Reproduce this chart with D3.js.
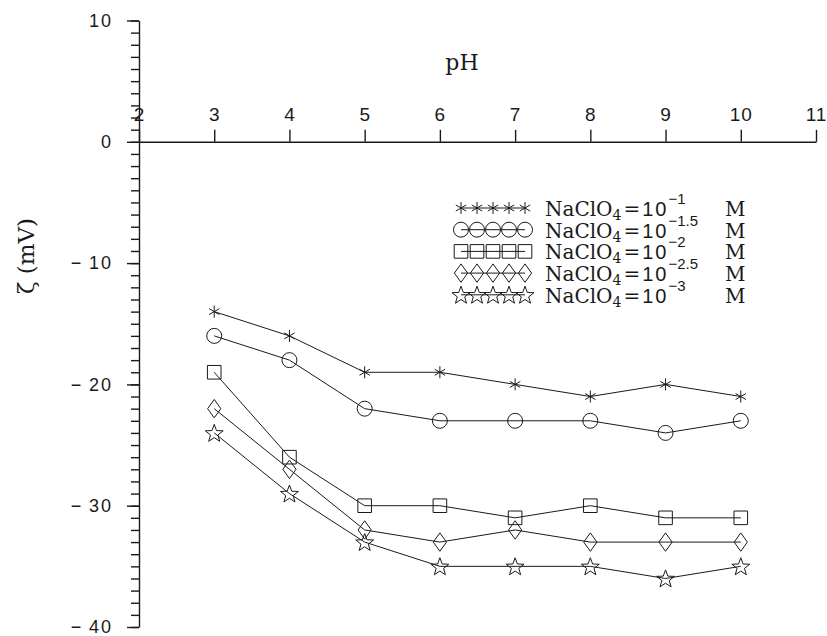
<!DOCTYPE html>
<html><head><meta charset="utf-8">
<script src="https://cdn.jsdelivr.net/npm/d3@7"></script>
<style>
body{margin:0;background:#fff;}
svg{display:block;}
</style></head><body>
<svg id="chart" width="827" height="636"></svg>
<script>
// Zeta potential vs pH for five NaClO4 concentrations
const pH = [3, 4, 5, 6, 7, 8, 9, 10];
const zetaE1  = [-14, -16, -19, -19, -20, -21, -20, -21];
const zetaE15 = [-16, -18, -22, -23, -23, -23, -24, -23];
const zetaE2  = [-19, -26, -30, -30, -31, -30, -31, -31];
const zetaE25 = [-22, -27, -32, -33, -32, -33, -33, -33];
const zetaE3  = [-24, -29, -33, -35, -35, -35, -36, -35];
const exponents = ["−1", "−1.5", "−2", "−2.5", "−3"];
const markers = ["asterisk", "circle", "square", "diamond", "star"];
const xTicks = [2, 3, 4, 5, 6, 7, 8, 9, 10, 11];
const yMajor = [-40, -30, -20, -10, 0, 10];

const series = [zetaE1, zetaE15, zetaE2, zetaE25, zetaE3].map((vals, i) => ({
  values: vals.map((v, j) => ({ x: pH[j], y: v })),
  marker: markers[i],
  exp: exponents[i]
}));

const ink = "#1a1a1a";
const sansFont = "'Liberation Sans', Arial, sans-serif";
const serifFont = "'DejaVu Serif', 'Liberation Serif', serif";

const svg = d3.select("#chart");
const x = d3.scaleLinear().domain([2, 11]).range([139, 816]);
const y = d3.scaleLinear().domain([-40, 10]).range([627, 20.5]);

function markerPath(type) {
  const p = d3.path();
  if (type === "asterisk") {
    const a = 6, c = a * Math.cos(Math.PI / 6), s = a * Math.sin(Math.PI / 6);
    p.moveTo(0, -a); p.lineTo(0, a);
    p.moveTo(-c, -s); p.lineTo(c, s);
    p.moveTo(-c, s); p.lineTo(c, -s);
  } else if (type === "circle") {
    p.moveTo(7.5, 0); p.arc(0, 0, 7.5, 0, 2 * Math.PI);
  } else if (type === "square") {
    p.rect(-6.8, -6.8, 13.6, 13.6);
  } else if (type === "diamond") {
    p.moveTo(0, -9.2); p.lineTo(6.6, 0); p.lineTo(0, 9.2); p.lineTo(-6.6, 0); p.closePath();
  } else if (type === "star") {
    const R = 9.4, r = 3.9;
    for (let k = 0; k < 10; k++) {
      const rad = k % 2 === 0 ? R : r;
      const ang = -Math.PI / 2 + k * Math.PI / 5;
      const px = rad * Math.cos(ang), py = rad * Math.sin(ang) + 0.8;
      k === 0 ? p.moveTo(px, py) : p.lineTo(px, py);
    }
    p.closePath();
  }
  return p.toString();
}

// Y axis: minor ticks every unit, labelled major ticks every 10
const yMinorAxis = d3.axisLeft(y).tickValues(d3.range(-40, 11)).tickSize(8).tickFormat("");
const yMajorAxis = d3.axisLeft(y).tickValues(yMajor).tickSize(12).tickPadding(14)
  .tickFormat(d => d < 0 ? "−\u2009" + Math.abs(d) : String(d));

const gyMinor = svg.append("g").attr("transform", `translate(${x(2)},0)`).call(yMinorAxis);
gyMinor.select(".domain").remove();
const gyMajor = svg.append("g").attr("transform", `translate(${x(2)},0)`).call(yMajorAxis.tickSizeOuter(0));

// X axis along zeta = 0, ticks pointing up
const xAxis = d3.axisTop(x).tickValues(xTicks).tickSize(12).tickSizeOuter(0).tickPadding(9);
const gx = svg.append("g").attr("transform", `translate(0,${y(0)})`).call(xAxis);

[gyMinor, gyMajor, gx].forEach(g => {
  g.selectAll("line").attr("stroke", ink).attr("stroke-width", 1.4);
  g.selectAll(".domain").attr("stroke", ink).attr("stroke-width", 1.4);
  g.selectAll("text").attr("fill", ink).style("font-family", sansFont);
});
gx.selectAll("text").style("font-size", "19px").style("letter-spacing", "1px");
gyMajor.selectAll("text").style("font-size", "18px").style("letter-spacing", "2px");

// Axis titles
svg.append("text").attr("x", 462).attr("y", 70).attr("text-anchor", "middle")
  .style("font-family", serifFont).style("font-size", "22px").attr("fill", ink).text("pH");
svg.append("text").attr("transform", "translate(34,256) rotate(-90)").attr("text-anchor", "middle")
  .style("font-family", serifFont).style("font-size", "23px").attr("fill", ink).text("ζ (mV)");

// Series lines and markers
const line = d3.line().x(d => x(d.x)).y(d => y(d.y));
const gs = svg.append("g").selectAll("g").data(series).join("g");
gs.append("path").attr("d", d => line(d.values)).attr("fill", "none")
  .attr("stroke", ink).attr("stroke-width", 1);
gs.each(function (s) {
  d3.select(this).selectAll("path.mk").data(s.values).join("path").attr("class", "mk")
    .attr("transform", d => `translate(${x(d.x)},${y(d.y)})`)
    .attr("d", markerPath(s.marker)).attr("fill", "none")
    .attr("stroke", ink).attr("stroke-width", 1);
});

// Legend
const legendX = 461, legendStep = 16, rowY0 = 208, rowGap = 21.7;
const lg = svg.append("g").selectAll("g").data(series).join("g")
  .attr("transform", (d, i) => `translate(0,${rowY0 + i * rowGap})`);
lg.append("line").attr("x1", legendX).attr("x2", legendX + 4 * legendStep)
  .attr("stroke", ink).attr("stroke-width", 1);
lg.each(function (s) {
  d3.select(this).selectAll("path").data(d3.range(5)).join("path")
    .attr("transform", k => `translate(${legendX + k * legendStep},0)`)
    .attr("d", markerPath(s.marker)).attr("fill", "none")
    .attr("stroke", ink).attr("stroke-width", 1);
});
const lt = lg.append("text").attr("x", 545).attr("y", 8).attr("fill", ink)
  .style("font-family", serifFont).style("font-size", "20px");
lt.append("tspan").text("NaClO");
lt.append("tspan").attr("dy", 4).style("font-size", "14px").text("4");
lt.append("tspan").attr("dy", -4).attr("dx", 2).text("=");
lt.append("tspan").attr("dx", 2).style("font-family", sansFont).style("letter-spacing", "2px").text("10");
lt.append("tspan").attr("dy", -12).style("font-family", sansFont).style("font-size", "15px").text(d => d.exp);
lg.append("text").attr("x", 725).attr("y", 8).attr("fill", ink)
  .style("font-family", serifFont).style("font-size", "20px").text("M");
</script>
</body></html>
